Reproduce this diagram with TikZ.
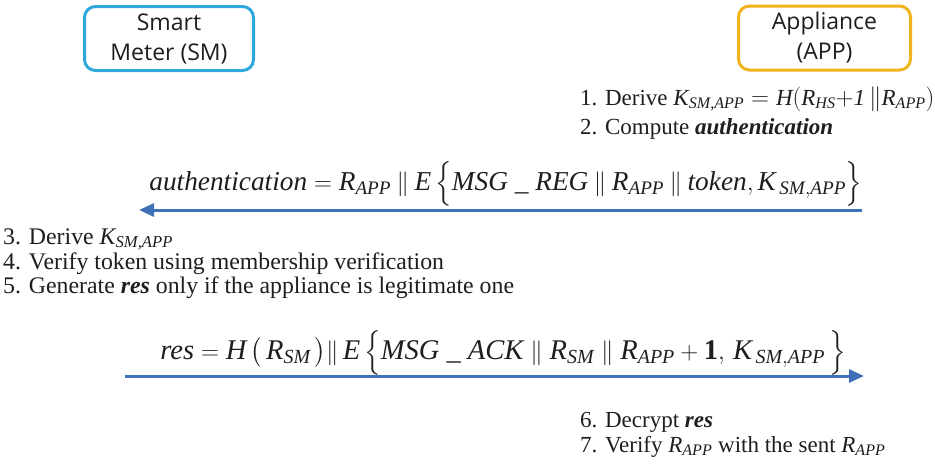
\documentclass[tikz,border=0pt]{standalone}
\usepackage{amsmath}
\usepackage{fontspec}
\setmainfont{Liberation Serif}
\newfontfamily\boxfont{Open Sans}
\usetikzlibrary{arrows.meta}
\definecolor{smblue}{HTML}{2EA8DC}
\definecolor{appgold}{HTML}{F0B51E}
\definecolor{arrblue}{HTML}{3D72B8}
\definecolor{txtgray}{HTML}{1E1E1E}
\newcommand{\mi}[1]{\textit{#1}}
\newcommand{\dbar}{\mathbin{\|}}
\newcommand{\wbar}{\mathrel{\|}}
\tikzset{
  party/.style={draw, line width=3pt, rounded corners=11pt, align=center,
    text=txtgray, font=\boxfont\fontsize{23}{30}\selectfont, inner sep=0pt},
  steptext/.style={anchor=base west, inner sep=0pt, text=txtgray,
    font=\fontsize{23.8}{24}\selectfont},
  eqtext/.style={anchor=base, inner sep=0pt, text=txtgray},
  msg/.style={draw=arrblue, line width=3pt,
    -{Triangle[length=15pt,width=13pt]}}
}
\begin{document}
\begin{tikzpicture}[x=1pt,y=-1pt]
\useasboundingbox[fill=white] (0,0) rectangle (935,469);
% parties
\node[party, draw=smblue, minimum width=169pt, minimum height=64pt] (sm) at (169,38.5) {Smart\\Meter (SM)};
\node[party, draw=appgold, minimum width=172pt, minimum height=64pt] (app) at (824.5,38) {Appliance\\(APP)};
% APP steps 1-2
\node[steptext, font=\fontsize{23}{24}\selectfont] (s1) at (580,105) {1. Derive $\mi{K}_{\mi{SM,APP}} = \mi{H}(\mi{R}_{\mi{HS}}{+}\mi{1}\,\|\mi{R}_{\mi{APP}})$};
\node[steptext, font=\fontsize{23}{24}\selectfont] (s2) at (580,134) {2. Compute \textbf{\textit{authentication}}};
% message 1
\node[eqtext, font=\fontsize{27.3}{30}\selectfont] (eq1) at (506,190) {$\mi{authentication} = \mi{R}_{\mi{APP}} \dbar \mi{E}\,\Bigl\{\mi{MSG}\ \_\ \mi{REG} \dbar \mi{R}_{\mi{APP}} \dbar \mi{token}, \mi{K}_{\,\mi{SM},\mi{APP}}\Bigr\}$};
\coordinate (m1s) at (862,210);
\coordinate (m1e) at (139,210);
\draw[msg] (m1s) -- (m1e);
% SM steps 3-5
\node[steptext] (s3) at (3,244) {3. Derive $\mi{K}_{\mi{SM,APP}}$};
\node[steptext] (s4) at (3,269) {4. Verify token using membership verification};
\node[steptext] (s5) at (3,293) {5. Generate \textbf{\textit{res}} only if the appliance is legitimate one};
% message 2
\node[eqtext, font=\fontsize{28.5}{30}\selectfont] (eq2) at (503,359) {$\mi{res} = \mi{H}\,\bigl(\,\mi{R}_{\mi{SM}}\,\bigr) \| \,\mi{E}\,\Bigl\{\mi{MSG}\ \_\ \mi{ACK} \wbar \mi{R}_{\mi{SM}} \wbar \mi{R}_{\mi{APP}} + \mathbf{1},\, \mi{K}_{\,\mi{SM},\mi{APP}}\,\Bigr\}$};
\coordinate (m2s) at (125,376);
\coordinate (m2e) at (864,376);
\draw[msg] (m2s) -- (m2e);
% APP steps 6-7
\node[steptext, font=\fontsize{23}{24}\selectfont] (s6) at (580,427) {6. Decrypt \textbf{\textit{res}}};
\node[steptext, font=\fontsize{23}{24}\selectfont] (s7) at (580,452) {7. Verify $\mi{R}_{\mi{APP}}$ with the sent $\mi{R}_{\mi{APP}}$};
\end{tikzpicture}
\end{document}
